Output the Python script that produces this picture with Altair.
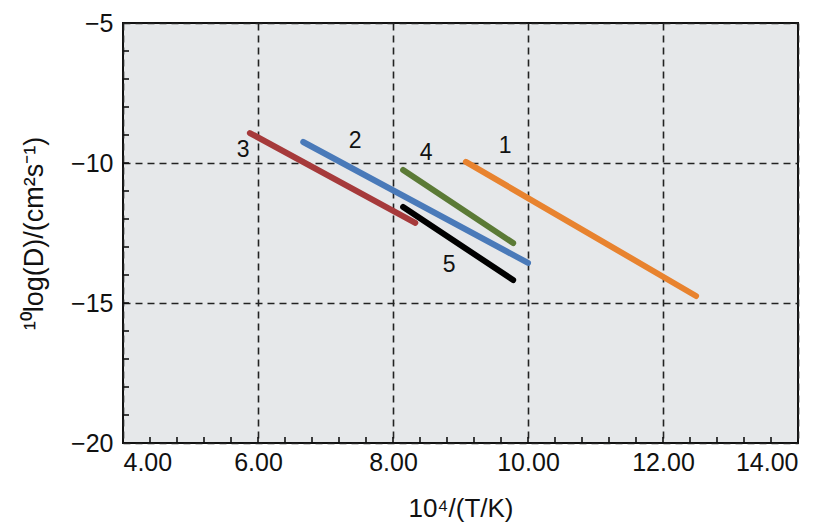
import altair as alt
import pandas as pd

# line series (endpoints)
series_ids = ["1", "1", "2", "2", "3", "3", "4", "4", "5", "5"]
x_vals = [9.08, 12.49, 6.67, 10.0, 5.88, 8.33, 8.15, 9.78, 8.15, 9.78]
y_vals = [-9.96, -14.75, -9.25, -13.57, -8.93, -12.14, -10.25, -12.86, -11.57, -14.18]

label_text = ["1", "2", "3", "4", "5"]
label_x = [9.66, 7.44, 5.78, 8.49, 8.83]
label_y = [-9.39, -9.21, -9.54, -9.64, -13.64]

series_colors = ["#e8832f", "#4a7ab9", "#a63a3b", "#5b7a36", "#000000"]

x_major = [4, 6, 8, 10, 12, 14]
y_major = [-5, -10, -15, -20]
x_minor = [4.4 + 0.4 * i for i in range(24)]
y_minor = [-6 - i for i in range(14)]

W, H = 675, 420
FONT = "Liberation Sans"

df = pd.DataFrame({"s": series_ids, "x": x_vals, "y": y_vals})
lab = pd.DataFrame({"t": label_text, "x": label_x, "y": label_y})
xt = pd.DataFrame({"v": x_minor})
yt = pd.DataFrame({"v": y_minor})

xs = alt.Scale(domain=[4, 14], nice=False, zero=False)
ys = alt.Scale(domain=[-20, -5], nice=False, zero=False)

x_axis = alt.Axis(values=x_major, format=".2f", ticks=False, domain=False,
                  grid=True, gridDash=[7, 5], gridColor="#222222", gridWidth=1.6,
                  labelFont=FONT, labelFontSize=25, labelColor="#111111",
                  labelPadding=7, titleFont=FONT, titleFontSize=26,
                  titleFontWeight="normal", titleColor="#111111", titlePadding=20)
y_axis = alt.Axis(values=y_major, ticks=False, domain=False,
                  grid=True, gridDash=[7, 5], gridColor="#222222", gridWidth=1.6,
                  labelFont=FONT, labelFontSize=25, labelColor="#111111",
                  labelPadding=10, titleFont=FONT, titleFontSize=27,
                  titleFontWeight="normal", titleColor="#111111", titlePadding=22)

xticks = alt.Chart(xt).mark_rule(color="#111111", strokeWidth=1.6).encode(
    x=alt.X("v:Q", scale=xs, title="10⁴/(T/K)", axis=x_axis),
    y=alt.value(H),
    y2=alt.value(H - 6),
)

yticks = alt.Chart(yt).mark_rule(color="#111111", strokeWidth=1.6).encode(
    y=alt.Y("v:Q", scale=ys, title="¹⁰log(D)/(cm²s⁻¹)", axis=y_axis),
    x=alt.value(0),
    x2=alt.value(6),
)

lines = alt.Chart(df).mark_line(strokeWidth=6, strokeCap="round").encode(
    x=alt.X("x:Q", scale=xs, title="10⁴/(T/K)", axis=x_axis),
    y=alt.Y("y:Q", scale=ys, title="¹⁰log(D)/(cm²s⁻¹)", axis=y_axis),
    color=alt.Color("s:N", scale=alt.Scale(domain=label_text, range=series_colors), legend=None),
    detail="s:N",
)

labels = alt.Chart(lab).mark_text(font=FONT, fontSize=23, color="#111111").encode(
    x=alt.X("x:Q", scale=xs, title="10⁴/(T/K)", axis=x_axis),
    y=alt.Y("y:Q", scale=ys, title="¹⁰log(D)/(cm²s⁻¹)", axis=y_axis),
    text="t:N",
)

chart = alt.layer(xticks, yticks, lines, labels).properties(
    width=W, height=H,
    autosize=alt.AutoSizeParams(type="none"),
    padding={"left": 115, "top": 15, "right": 28, "bottom": 79},
).configure_view(
    fill="#e6e8ea", stroke="#111111", strokeWidth=2
)

chart.save("out.html", embed_options={"renderer": "svg", "actions": False})
